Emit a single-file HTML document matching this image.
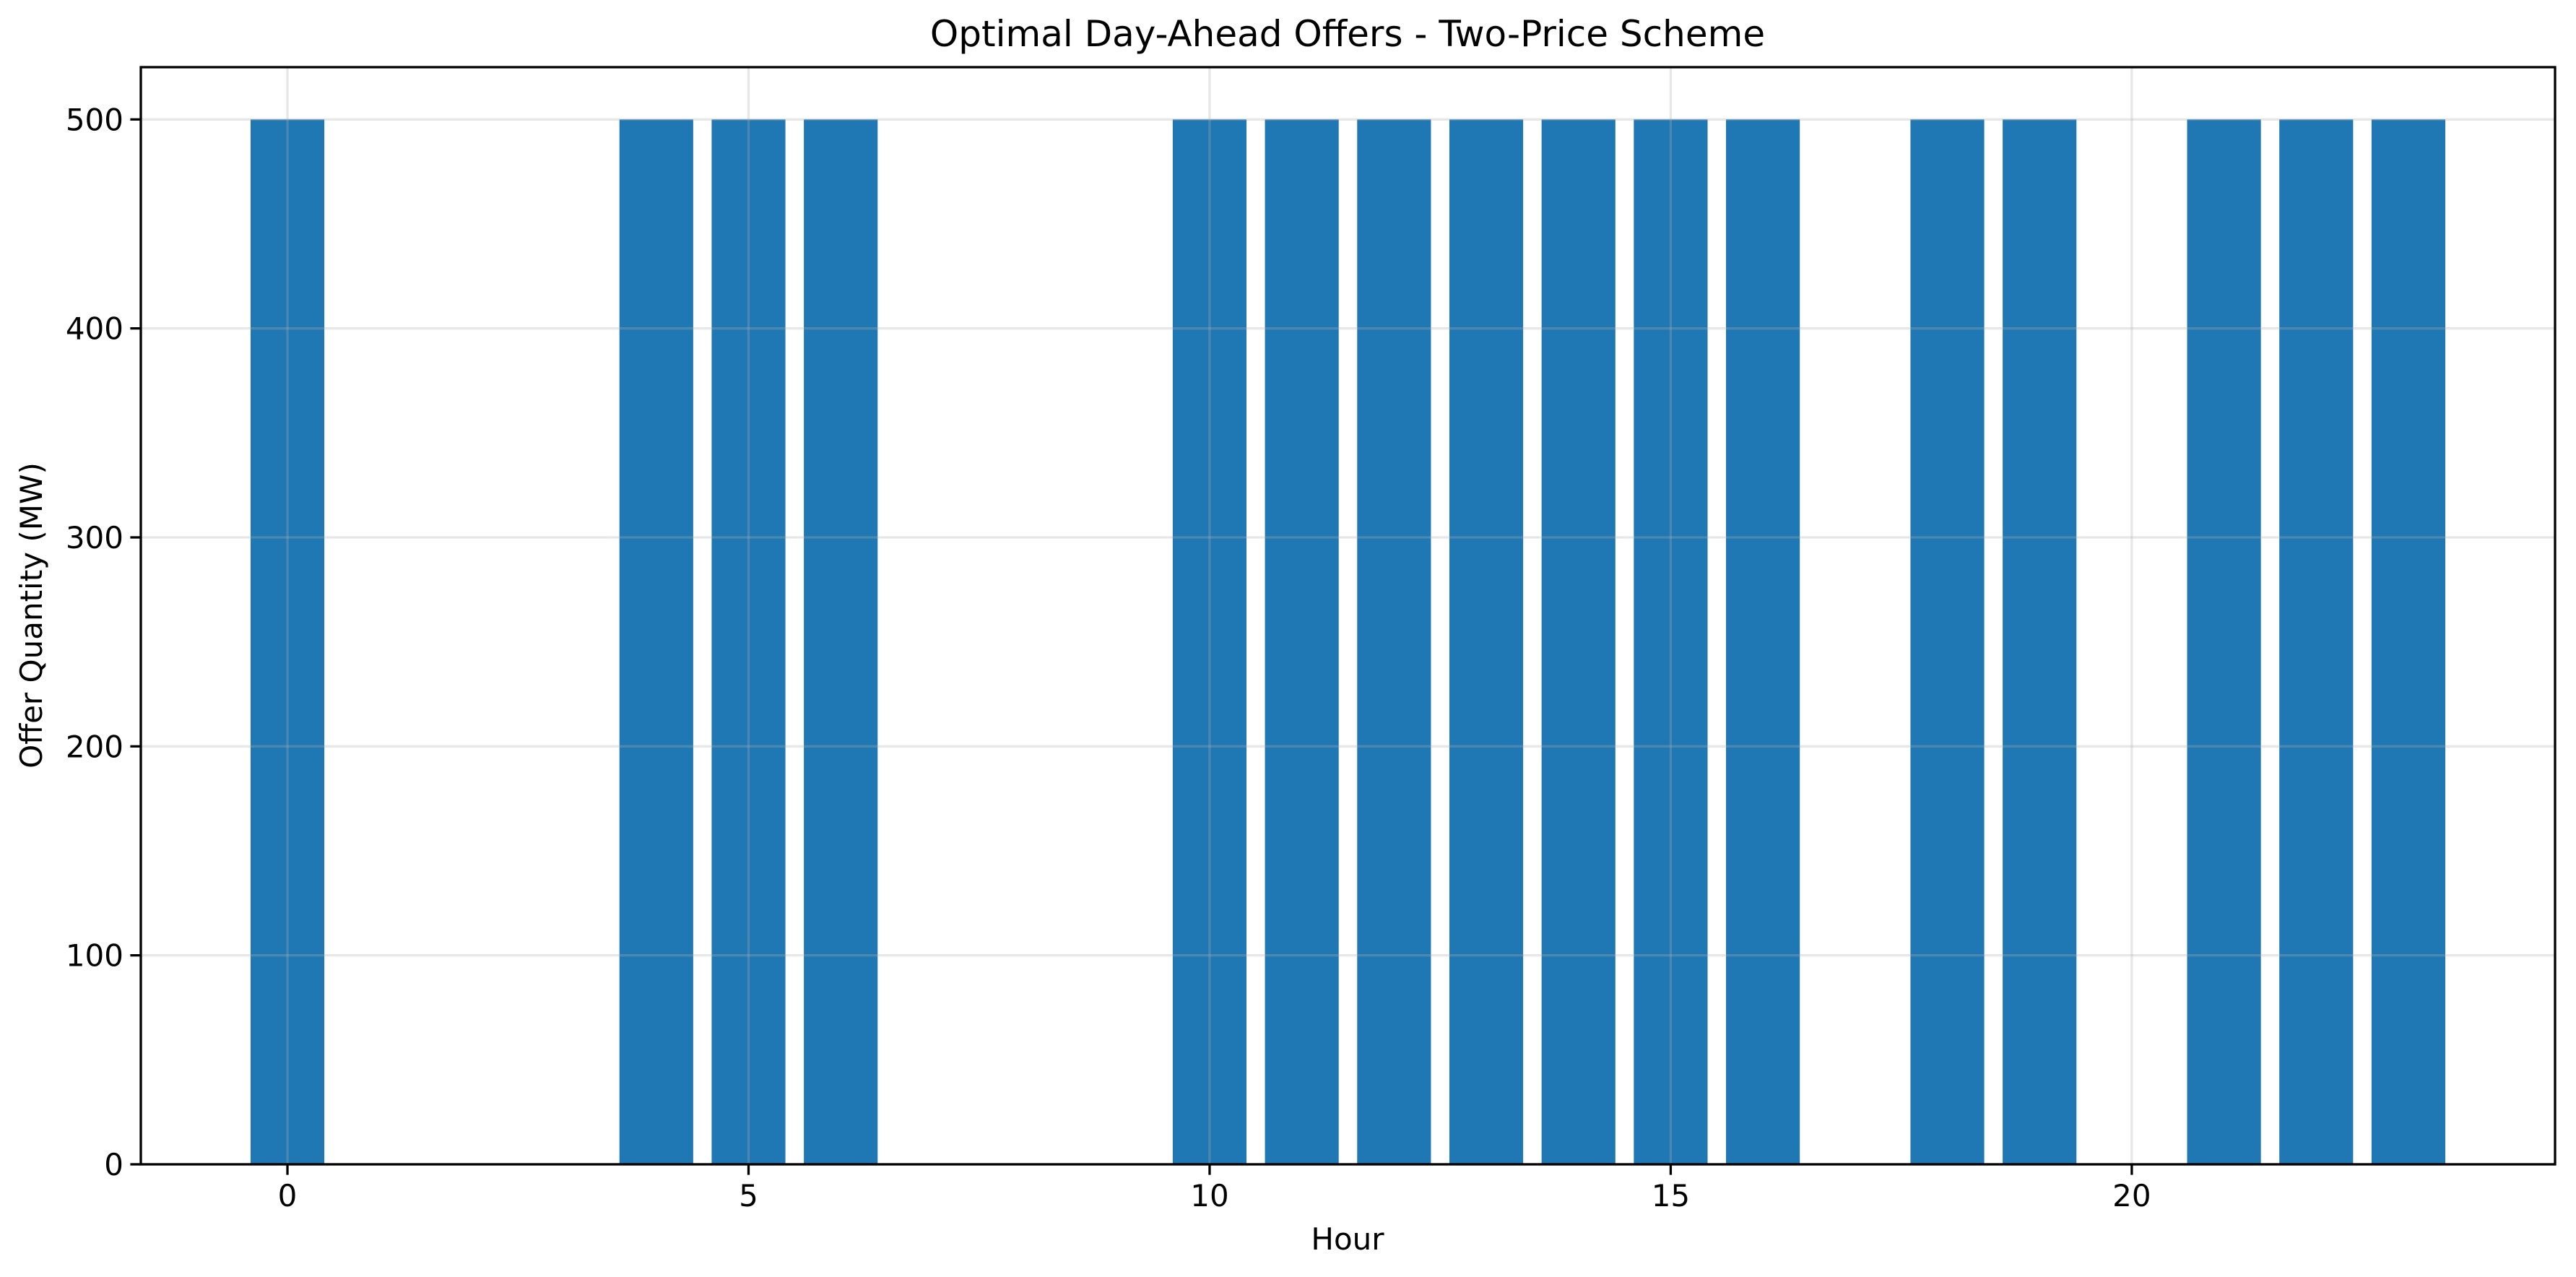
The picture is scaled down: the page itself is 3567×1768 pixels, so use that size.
<!DOCTYPE html>
<html><head><meta charset="utf-8"><style>
html,body{margin:0;padding:0;background:#fff;}
svg{display:block;font-family:"DejaVu Sans","Liberation Sans",sans-serif;}
</style></head><body>
<svg id="chart" width="3567" height="1768" viewBox="0 0 3567 1768" xmlns="http://www.w3.org/2000/svg">
<rect width="3567" height="1768" fill="#fff"/>
<g id="bars"></g>
<g id="grid"></g>
<g id="axes"></g>
<text x="1866" y="64" font-size="50" text-anchor="middle">Optimal Day-Ahead Offers - Two-Price Scheme</text>
<text x="1866" y="1730" font-size="42" text-anchor="middle">Hour</text>
<text x="0" y="0" font-size="42" text-anchor="middle" transform="translate(58,852) rotate(-90)">Offer Quantity (MW)</text>
</svg>
<script>
const hours = [0,1,2,3,4,5,6,7,8,9,10,11,12,13,14,15,16,17,18,19,20,21,22,23];
const offers = [500,0,0,0,500,500,500,0,0,0,500,500,500,500,500,500,500,0,500,500,0,500,500,500];
const xTicks = [0,5,10,15,20];
const yTicks = [0,100,200,300,400,500];

const L=195,R=3538,T=93,B=1612;
const xMin=-1.59,xMax=24.59,yMin=0,yMax=525;
const xs=v=>L+(v-xMin)/(xMax-xMin)*(R-L);
const ys=v=>B-(v-yMin)/(yMax-yMin)*(B-T);
const NS="http://www.w3.org/2000/svg";
function mk(tag,attrs,parent){const e=document.createElementNS(NS,tag);for(const k in attrs)e.setAttribute(k,attrs[k]);parent.appendChild(e);return e;}
const gb=document.getElementById('bars'),gg=document.getElementById('grid'),ga=document.getElementById('axes');

hours.forEach((h,i)=>{
  const v=offers[i]; if(!v) return;
  const r=mk('rect',{x:xs(h-0.4),y:ys(v),width:xs(h+0.4)-xs(h-0.4),height:ys(0)-ys(v),fill:'#1f77b4'},gb);
  
  
});
xTicks.forEach(t=>{
  const l=mk('line',{x1:xs(t),x2:xs(t),y1:T,y2:B,stroke:'#b0b0b0','stroke-opacity':0.3,'stroke-width':3.3},gg);
  
  
  const tk=mk('line',{x1:xs(t),x2:xs(t),y1:B,y2:B+14.6,stroke:'#000','stroke-width':3.3},ga);
  
  
  const tx=mk('text',{x:xs(t),y:B+58,'font-size':42,'text-anchor':'middle'},ga);
  tx.textContent=t;
  
  
});
yTicks.forEach(t=>{
  const l=mk('line',{x1:L,x2:R,y1:ys(t),y2:ys(t),stroke:'#b0b0b0','stroke-opacity':0.3,'stroke-width':3.3},gg);
  
  
  const tk=mk('line',{x1:L-14.6,x2:L,y1:ys(t),y2:ys(t),stroke:'#000','stroke-width':3.3},ga);
  
  
  const tx=mk('text',{x:L-24,y:ys(t)+15,'font-size':42,'text-anchor':'end'},ga);
  tx.textContent=t;
  
  
});
const fr=mk('rect',{x:L,y:T,width:R-L,height:B-T,fill:'none',stroke:'#000','stroke-width':3.3},ga);


</script>
</body></html>
